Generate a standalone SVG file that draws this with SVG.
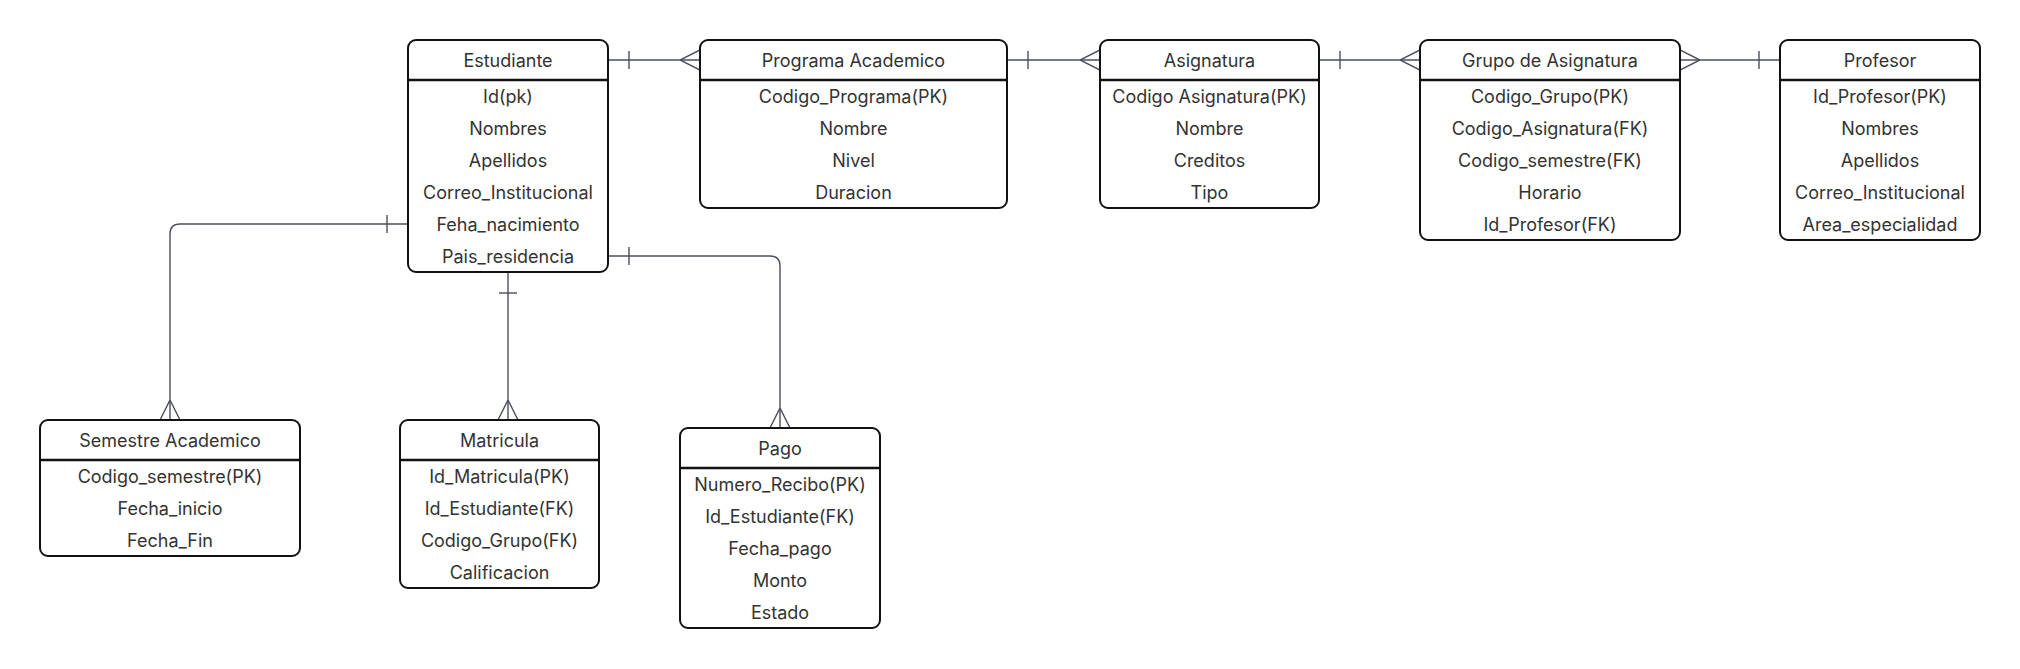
<svg xmlns="http://www.w3.org/2000/svg" width="2020" height="669" viewBox="0 0 2020 669">
<style>
.box{fill:#fff;stroke:#111;stroke-width:2}
.sep{stroke:#111;stroke-width:2.5}
.t{font-family:Inter,"Liberation Sans",sans-serif;font-size:18px;fill:#333;text-anchor:middle;dominant-baseline:central}
.c{fill:none;stroke:#4a4f5c;stroke-width:1.4;marker-start:url(#one);marker-end:url(#many)}
</style>
<defs>
<marker id="one" markerUnits="userSpaceOnUse" viewBox="0 0 30 20" markerWidth="30" markerHeight="20" refX="0" refY="10" orient="auto">
<path d="M21,1V19" stroke="#4a4f5c" stroke-width="1.4" fill="none"/>
</marker>
<marker id="many" markerUnits="userSpaceOnUse" viewBox="0 0 20 22" markerWidth="20" markerHeight="22" refX="20" refY="11" orient="auto">
<path d="M0,11L20,1M0,11L20,21" stroke="#4a4f5c" stroke-width="1.4" fill="none"/>
</marker>
</defs>
<rect width="2020" height="669" fill="#fff"/>
<g id="connectors">
<path class="c" d="M608,60H700"/>
<path class="c" d="M1007,60H1100"/>
<path class="c" d="M1319,60H1420"/>
<path class="c" d="M1780,60H1680"/>
<path class="c" d="M408,224H180Q170,224 170,234V420"/>
<path class="c" d="M508,272V420"/>
<path class="c" d="M608,256H770Q780,256 780,266V428"/>
</g>
<g id="estudiante">
<rect class="box" x="408" y="40" width="200" height="232" rx="8"/>
<line class="sep" x1="408" y1="80" x2="608" y2="80"/>
<text class="t" x="508" y="60">Estudiante</text>
<text class="t" x="508" y="96">Id(pk)</text>
<text class="t" x="508" y="128">Nombres</text>
<text class="t" x="508" y="160">Apellidos</text>
<text class="t" x="508" y="192">Correo_Institucional</text>
<text class="t" x="508" y="224">Feha_nacimiento</text>
<text class="t" x="508" y="256">Pais_residencia</text>
</g>
<g id="programa">
<rect class="box" x="700" y="40" width="307" height="168" rx="8"/>
<line class="sep" x1="700" y1="80" x2="1007" y2="80"/>
<text class="t" x="853.5" y="60">Programa Academico</text>
<text class="t" x="853.5" y="96">Codigo_Programa(PK)</text>
<text class="t" x="853.5" y="128">Nombre</text>
<text class="t" x="853.5" y="160">Nivel</text>
<text class="t" x="853.5" y="192">Duracion</text>
</g>
<g id="asignatura">
<rect class="box" x="1100" y="40" width="219" height="168" rx="8"/>
<line class="sep" x1="1100" y1="80" x2="1319" y2="80"/>
<text class="t" x="1209.5" y="60">Asignatura</text>
<text class="t" x="1209.5" y="96">Codigo Asignatura(PK)</text>
<text class="t" x="1209.5" y="128">Nombre</text>
<text class="t" x="1209.5" y="160">Creditos</text>
<text class="t" x="1209.5" y="192">Tipo</text>
</g>
<g id="grupo">
<rect class="box" x="1420" y="40" width="260" height="200" rx="8"/>
<line class="sep" x1="1420" y1="80" x2="1680" y2="80"/>
<text class="t" x="1550" y="60">Grupo de Asignatura</text>
<text class="t" x="1550" y="96">Codigo_Grupo(PK)</text>
<text class="t" x="1550" y="128">Codigo_Asignatura(FK)</text>
<text class="t" x="1550" y="160">Codigo_semestre(FK)</text>
<text class="t" x="1550" y="192">Horario</text>
<text class="t" x="1550" y="224">Id_Profesor(FK)</text>
</g>
<g id="profesor">
<rect class="box" x="1780" y="40" width="200" height="200" rx="8"/>
<line class="sep" x1="1780" y1="80" x2="1980" y2="80"/>
<text class="t" x="1880" y="60">Profesor</text>
<text class="t" x="1880" y="96">Id_Profesor(PK)</text>
<text class="t" x="1880" y="128">Nombres</text>
<text class="t" x="1880" y="160">Apellidos</text>
<text class="t" x="1880" y="192">Correo_Institucional</text>
<text class="t" x="1880" y="224">Area_especialidad</text>
</g>
<g id="semestre">
<rect class="box" x="40" y="420" width="260" height="136" rx="8"/>
<line class="sep" x1="40" y1="460" x2="300" y2="460"/>
<text class="t" x="170" y="440">Semestre Academico</text>
<text class="t" x="170" y="476">Codigo_semestre(PK)</text>
<text class="t" x="170" y="508">Fecha_inicio</text>
<text class="t" x="170" y="540">Fecha_Fin</text>
</g>
<g id="matricula">
<rect class="box" x="400" y="420" width="199" height="168" rx="8"/>
<line class="sep" x1="400" y1="460" x2="599" y2="460"/>
<text class="t" x="499.5" y="440">Matricula</text>
<text class="t" x="499.5" y="476">Id_Matricula(PK)</text>
<text class="t" x="499.5" y="508">Id_Estudiante(FK)</text>
<text class="t" x="499.5" y="540">Codigo_Grupo(FK)</text>
<text class="t" x="499.5" y="572">Calificacion</text>
</g>
<g id="pago">
<rect class="box" x="680" y="428" width="200" height="200" rx="8"/>
<line class="sep" x1="680" y1="468" x2="880" y2="468"/>
<text class="t" x="780" y="448">Pago</text>
<text class="t" x="780" y="484">Numero_Recibo(PK)</text>
<text class="t" x="780" y="516">Id_Estudiante(FK)</text>
<text class="t" x="780" y="548">Fecha_pago</text>
<text class="t" x="780" y="580">Monto</text>
<text class="t" x="780" y="612">Estado</text>
</g>
</svg>
